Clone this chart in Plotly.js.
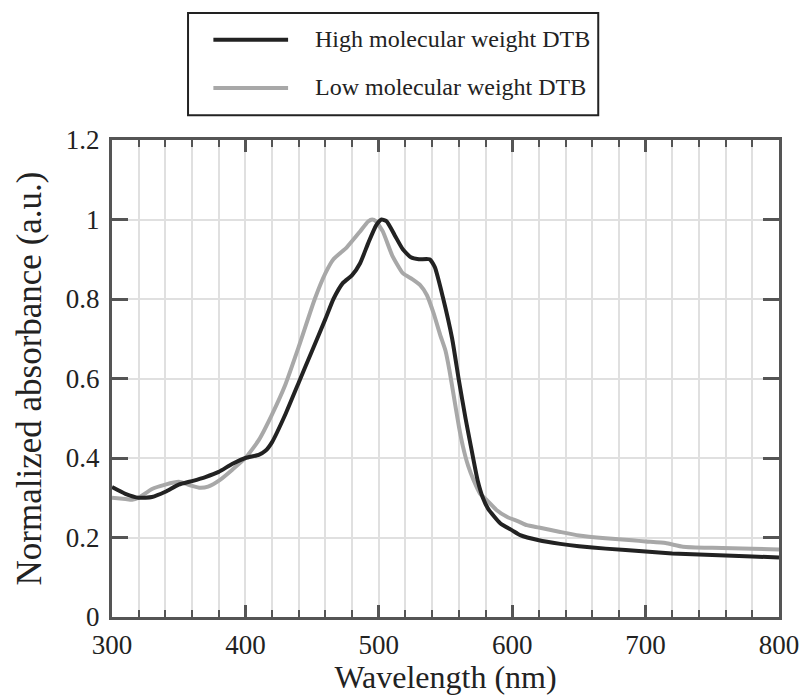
<!DOCTYPE html>
<html>
<head>
<meta charset="utf-8">
<script src="https://cdn.plot.ly/plotly-3.0.1.min.js"></script>
<style>html,body{margin:0;padding:0;background:#fff;}#chart{width:801px;height:695px;}</style>
</head>
<body>
<div id="chart"></div>
<script>
// Data
const highWl = [300,310,320,330,340,350,360,370,380,390,400,410,415,420,430,440,450,460,466,473,480,486,492,498,502,506,512,518,524,530,538,542,548,555,560,565,569,574,578,582,591,600,606,620,636,650,670,700,720,740,760,780,800];
const highAbs = [0.327,0.31,0.30,0.302,0.315,0.333,0.342,0.352,0.365,0.385,0.40,0.408,0.418,0.44,0.51,0.59,0.67,0.75,0.80,0.84,0.86,0.89,0.94,0.985,1.0,0.995,0.96,0.925,0.905,0.90,0.90,0.88,0.805,0.70,0.596,0.50,0.43,0.345,0.30,0.272,0.236,0.218,0.206,0.193,0.184,0.178,0.172,0.165,0.16,0.157,0.155,0.152,0.15];
const lowWl = [300,310,315,320,330,340,350,360,366,372,381,390,400,410,420,430,440,452,460,466,476,486,492,495,498,503,510,518,525,531,536,541,546,550,553,556,560,563,567,571,576,581,588,596,605,611,620,636,650,670,690,700,715,728,750,780,800];
const lowAbs = [0.30,0.297,0.295,0.30,0.322,0.333,0.34,0.33,0.325,0.328,0.345,0.37,0.40,0.445,0.51,0.585,0.68,0.80,0.865,0.90,0.93,0.97,0.995,1.0,0.995,0.97,0.91,0.865,0.85,0.835,0.81,0.765,0.71,0.67,0.62,0.56,0.48,0.43,0.38,0.345,0.31,0.294,0.27,0.252,0.24,0.231,0.225,0.214,0.205,0.198,0.193,0.19,0.186,0.177,0.174,0.172,0.17];
const seriesNames = ['High molecular weight DTB','Low molecular weight DTB'];
const seriesColors = ['#222222','#a8a8a8'];
const xTitle = 'Wavelength (nm)';
const yTitle = 'Normalized absorbance (a.u.)';

const FONT = 'Liberation Serif';

const traces = [
  {x: lowWl, y: lowAbs, name: seriesNames[1], type:'scatter', mode:'lines',
   line:{color: seriesColors[1], width:4, shape:'spline', smoothing:0.5}},
  {x: highWl, y: highAbs, name: seriesNames[0], type:'scatter', mode:'lines',
   line:{color: seriesColors[0], width:4, shape:'spline', smoothing:0.5}}
];

// custom legend (box, sample lines, labels) in paper coordinates
const shapes = [
  {type:'rect', xref:'paper', yref:'paper', x0:0.114, x1:0.729, y0:1.052, y1:1.266,
   line:{color:'#222', width:2}, fillcolor:'rgba(0,0,0,0)'},
  {type:'line', xref:'paper', yref:'paper', x0:0.152, x1:0.264, y0:1.210, y1:1.210,
   line:{color: seriesColors[0], width:4}},
  {type:'line', xref:'paper', yref:'paper', x0:0.152, x1:0.264, y0:1.109, y1:1.109,
   line:{color: seriesColors[1], width:4}}
];
const annotations = [
  {xref:'paper', yref:'paper', x:0.301, y:1.212, xanchor:'left', yanchor:'middle', showarrow:false,
   text: seriesNames[0], font:{family:FONT, size:24, color:'#222'}},
  {xref:'paper', yref:'paper', x:0.301, y:1.111, xanchor:'left', yanchor:'middle', showarrow:false,
   text: seriesNames[1], font:{family:FONT, size:24, color:'#222'}}
];

const layout = {
  width:801, height:695,
  margin:{l:112, r:22, t:140, b:78},
  paper_bgcolor:'#fff', plot_bgcolor:'#fff',
  showlegend:false,
  font:{family:FONT, color:'#222'},
  xaxis:{
    range:[300,800], dtick:100, tick0:300,
    ticks:'inside', ticklen:12, tickwidth:3, tickcolor:'#555',
    showline:true, linecolor:'#555', linewidth:3, mirror:'ticks',
    showgrid:true, gridcolor:'#e0e0e0', gridwidth:2, zeroline:false,
    tickfont:{family:FONT, size:27, color:'#222'},
    ticklabelstandoff:2,
    minor:{dtick:20, ticks:'inside', ticklen:7, tickwidth:2, tickcolor:'#555', showgrid:true, gridcolor:'#e0e0e0', gridwidth:2},
    title:{text:xTitle, font:{family:FONT, size:32, color:'#222'}, standoff:6}
  },
  yaxis:{
    range:[0,1.2], dtick:0.2, tick0:0,
    ticks:'inside', ticklen:16, tickwidth:3, tickcolor:'#555',
    showline:true, linecolor:'#555', linewidth:3, mirror:'ticks',
    showgrid:true, gridcolor:'#e0e0e0', gridwidth:2, zeroline:false,
    tickfont:{family:FONT, size:27, color:'#222'},
    ticklabelstandoff:4,
    title:{text:yTitle, font:{family:FONT, size:35, color:'#222'}, standoff:14}
  },
  shapes: shapes,
  annotations: annotations
};

Plotly.newPlot('chart', traces, layout, {displayModeBar:false, staticPlot:true});
</script>
</body>
</html>
